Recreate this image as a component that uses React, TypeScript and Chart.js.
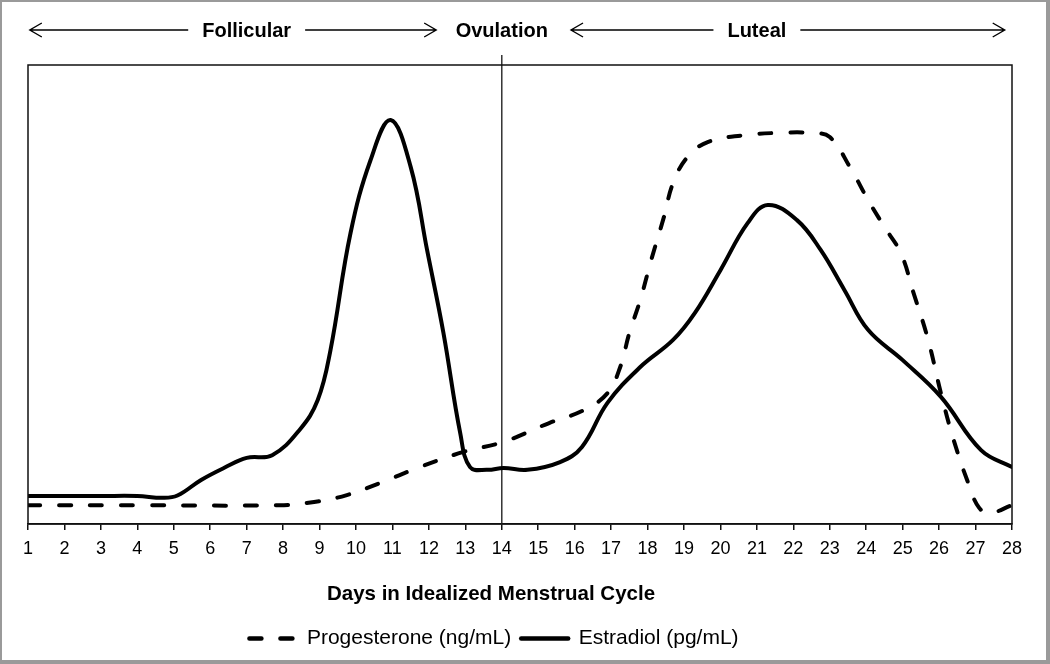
import React, { useEffect, useRef } from 'react';
import { Chart, registerables } from 'chart.js';

Chart.register(...registerables);

const FONT = '"Liberation Sans", Arial, Helvetica, sans-serif';

// ---- data ----
const dayTicks = [1, 2, 3, 4, 5, 6, 7, 8, 9, 10, 11, 12, 13, 14, 15, 16, 17, 18, 19, 20, 21, 22, 23, 24, 25, 26, 27, 28];

const progesteroneDays = [1, 4, 7.9, 8.85, 9.75, 10.65, 11.75, 12.95, 14.05, 15.3, 16.25, 16.9, 17.25, 17.5, 17.8, 18.1, 18.45, 18.7, 19.1, 19.65, 20.65, 21.55, 22.5, 23.0, 23.55, 24.05, 24.5, 24.95, 25.3, 25.7, 26.05, 26.4, 26.8, 27.1, 27.4, 28];
const progesteroneLevels = [4.1, 4.1, 4.1, 4.8, 6.3, 8.9, 12.4, 15.7, 17.9, 22.0, 24.8, 28.5, 34.2, 41.6, 48.8, 57.5, 66.9, 74.3, 80.0, 83.2, 84.7, 85.2, 85.2, 84.3, 77.8, 70.6, 64.7, 59.0, 50.3, 40.1, 28.5, 18.3, 8.9, 3.5, 2.4, 4.1];

const estradiolDays = [1, 2, 3, 4, 4.7, 5.1, 5.75, 6.4, 7.0, 7.7, 8.45, 8.95, 9.3, 9.85, 10.4, 10.95, 11.5, 11.95, 12.4, 12.86, 13.13, 13.6, 14.05, 14.7, 15.6, 16.2, 16.9, 17.8, 18.7, 19.3, 20.0, 20.75, 21.3, 22.1, 22.75, 23.4, 24.05, 25.0, 26.05, 27.15, 28];
const estradiolLevels = [6.1, 6.1, 6.1, 6.1, 5.7, 6.2, 9.6, 12.3, 14.4, 15.0, 20.5, 27.0, 37.9, 63.4, 79.3, 88.0, 77.8, 59.7, 41.6, 19.8, 12.4, 11.8, 12.2, 11.8, 13.5, 16.8, 26.4, 34.2, 40.1, 46.0, 55.3, 65.6, 69.5, 66.2, 59.7, 51.0, 42.3, 35.7, 27.7, 16.1, 12.4];

const seriesLabels = ['Progesterone (ng/mL)', 'Estradiol (pg/mL)'];
const axisTitle = 'Days in Idealized Menstrual Cycle';
const phaseNames = ['Follicular', 'Ovulation', 'Luteal'];
const phaseCenterDays = [7, 14, 21];
const phaseArrowSpans: (number[] | null)[] = [[1.05, 12.2], null, [15.9, 27.8]];
const ovulationDay = 14;

const LEGEND_SHIFT = -26;
const TITLE_SHIFT = -29;

function drawArrow(ctx: CanvasRenderingContext2D, from: number, to: number, y: number) {
  const dir = to > from ? 1 : -1;
  ctx.beginPath();
  ctx.moveTo(from, y);
  ctx.lineTo(to, y);
  ctx.moveTo(to - dir * 12, y - 7);
  ctx.lineTo(to, y);
  ctx.lineTo(to - dir * 12, y + 7);
  ctx.stroke();
}

const cyclePlugin = {
  id: 'cycleDecor',
  afterLayout(chart: any) {
    const lg = chart.legend;
    if (lg) {
      lg.left += LEGEND_SHIFT;
      lg.right += LEGEND_SHIFT;
    }
  },
  beforeDatasetsDraw(chart: any) {
    const { ctx, chartArea, scales } = chart;
    const x = scales.x.getPixelForValue(ovulationDay);
    ctx.save();
    ctx.strokeStyle = '#333';
    ctx.lineWidth = 1.5;
    ctx.beginPath();
    ctx.moveTo(x, chartArea.top - 10);
    ctx.lineTo(x, chartArea.bottom);
    ctx.stroke();
    ctx.restore();
  },
  afterDraw(chart: any) {
    const { ctx, chartArea, scales } = chart;
    const xs = scales.x;
    ctx.save();
    ctx.strokeStyle = '#111';
    ctx.lineWidth = 1.5;
    ctx.strokeRect(chartArea.left, chartArea.top, chartArea.right - chartArea.left, chartArea.bottom - chartArea.top);

    const y = chartArea.top - 35;
    ctx.font = `bold 20px ${FONT}`;
    ctx.fillStyle = '#000';
    ctx.textAlign = 'center';
    ctx.textBaseline = 'middle';
    ctx.lineWidth = 1.4;
    ctx.strokeStyle = '#000';
    phaseNames.forEach((name, i) => {
      const cx = xs.getPixelForValue(phaseCenterDays[i]);
      ctx.fillText(name, cx, y + 1);
      const span = phaseArrowSpans[i];
      if (span) {
        const w = ctx.measureText(name).width;
        const gap = 14;
        drawArrow(ctx, cx - w / 2 - gap, xs.getPixelForValue(span[0]), y);
        drawArrow(ctx, cx + w / 2 + gap, xs.getPixelForValue(span[1]), y);
      }
    });

    ctx.font = `bold 20.5px ${FONT}`;
    ctx.fillText(axisTitle, (chartArea.left + chartArea.right) / 2 + TITLE_SHIFT, chartArea.bottom + 70);
    ctx.restore();
  },
};

export default function App() {
  const ref = useRef<HTMLCanvasElement>(null);

  useEffect(() => {
    if (!ref.current) return;
    const chart = new Chart(ref.current, {
      type: 'line',
      data: {
        datasets: [
          {
            label: seriesLabels[0],
            data: progesteroneDays.map((d, i) => ({ x: d, y: progesteroneLevels[i] })),
            borderColor: '#000',
            backgroundColor: '#000',
            borderWidth: 4,
            borderDash: [12, 19],
            borderCapStyle: 'round',
            pointRadius: 0,
            tension: 0.4,
            fill: false,
          },
          {
            label: seriesLabels[1],
            data: estradiolDays.map((d, i) => ({ x: d, y: estradiolLevels[i] })),
            borderColor: '#000',
            backgroundColor: '#000',
            borderWidth: 4,
            borderCapStyle: 'round',
            borderJoinStyle: 'round',
            pointRadius: 0,
            tension: 0.4,
            fill: false,
          },
        ],
      },
      options: {
        animation: false,
        responsive: false,
        events: [],
        layout: { padding: { left: 28, right: 38, top: 65, bottom: 5 } },
        plugins: {
          tooltip: { enabled: false },
          title: { display: false },
          legend: {
            display: true,
            position: 'bottom',
            labels: {
              usePointStyle: true,
              pointStyle: 'line',
              pointStyleWidth: 47,
              padding: 10,
              color: '#000',
              font: { family: FONT, size: 21 },
              generateLabels: (c: any) =>
                c.data.datasets.map((ds: any, i: number) => ({
                  text: ds.label,
                  fillStyle: 'rgba(0,0,0,0)',
                  strokeStyle: ds.borderColor,
                  lineWidth: 4.5,
                  lineDash: ds.borderDash || [],
                  lineDashOffset: 0,
                  lineCap: 'round',
                  lineJoin: 'round',
                  pointStyle: 'line',
                  hidden: false,
                  datasetIndex: i,
                  fontColor: '#000',
                })),
            },
          },
        },
        scales: {
          x: {
            type: 'linear',
            min: dayTicks[0],
            max: dayTicks[dayTicks.length - 1],
            afterBuildTicks: (s: any) => {
              s.ticks = dayTicks.map((v) => ({ value: v }));
            },
            afterFit: (s: any) => {
              s.height = 94;
            },
            ticks: {
              autoSkip: false,
              maxRotation: 0,
              padding: 8,
              color: '#000',
              font: { family: FONT, size: 18 },
              callback: (v: any) => String(v),
            },
            grid: {
              drawOnChartArea: false,
              drawTicks: true,
              tickLength: 6,
              color: '#111',
              lineWidth: 1.5,
            },
            border: { display: true, color: '#111', width: 1.5 },
          },
          y: { display: false, min: 0, max: 100 },
        },
      } as any,
      plugins: [cyclePlugin],
    });
    return () => chart.destroy();
  }, []);

  return (
    <div style={{ position: 'absolute', left: 0, top: 0, width: 1050, height: 664, background: '#fff' }}>
      <canvas ref={ref} width={1050} height={664} style={{ display: 'block', width: 1050, height: 664 }} />
      <div
        style={{
          position: 'absolute',
          left: 0,
          top: 0,
          width: 1050,
          height: 664,
          boxSizing: 'border-box',
          borderStyle: 'solid',
          borderColor: '#9a9a9a',
          borderWidth: '2px 4px 4px 2px',
          pointerEvents: 'none',
        }}
      />
    </div>
  );
}
